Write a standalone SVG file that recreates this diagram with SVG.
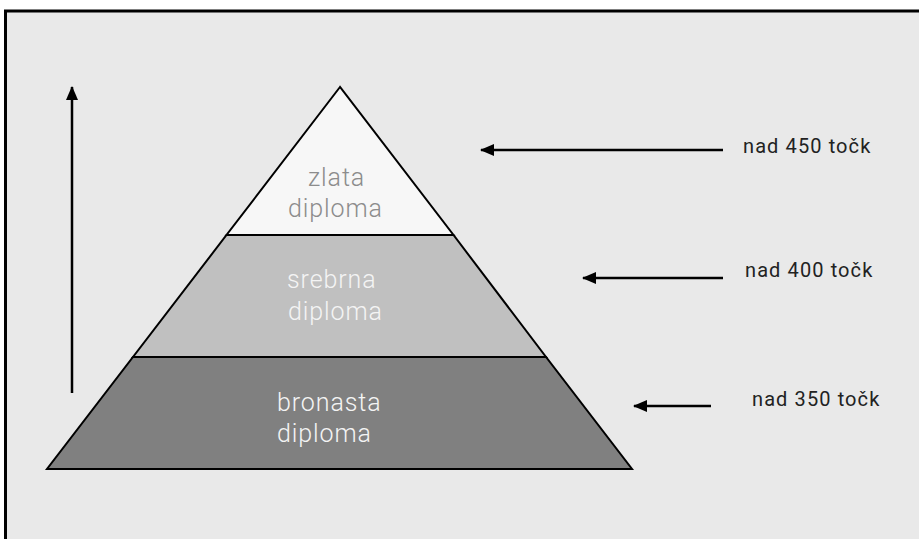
<svg xmlns="http://www.w3.org/2000/svg" width="919" height="539" viewBox="0 0 919 539">
<defs>
<marker id="ah" markerWidth="14" markerHeight="12" refX="13" refY="6" orient="auto" markerUnits="userSpaceOnUse">
<path d="M0,0 L14,6 L0,12 Z" fill="#000"/>
</marker>
<style>
.lvl{stroke:#000;stroke-width:2;stroke-linejoin:miter}
.lt{font-family:Roboto,"Liberation Sans",sans-serif;font-weight:300;font-size:25px;letter-spacing:0.9px}
.rt{font-family:Roboto,"Liberation Sans",sans-serif;font-weight:400;font-size:20px;letter-spacing:1.1px;fill:#222}
.con{stroke:#000;stroke-width:2.5;fill:none;marker-end:url(#ah)}
</style>
</defs>
<rect width="919" height="539" fill="#fff"/>
<rect x="5.5" y="11" width="1000" height="1000" fill="#e9e9e9" stroke="#000" stroke-width="3"/>
<g id="zlata">
<polygon class="lvl" points="340,87 226.5,235 453.5,235" fill="#f7f7f7"/>
<text class="lt" fill="#8c8c8c" x="308" y="186">zlata</text>
<text class="lt" fill="#8c8c8c" x="288" y="217">diploma</text>
</g>
<g id="srebrna">
<polygon class="lvl" points="226.5,235 453.5,235 546,357 133,357" fill="#c0c0c0"/>
<text class="lt" fill="#f4f4f4" x="287" y="288">srebrna</text>
<text class="lt" fill="#f4f4f4" x="288" y="320">diploma</text>
</g>
<g id="bronasta">
<polygon class="lvl" points="133,357 546,357 632,469 47,469" fill="#808080"/>
<text class="lt" fill="#f4f4f4" x="277" y="411">bronasta</text>
<text class="lt" fill="#f4f4f4" x="277" y="442">diploma</text>
</g>
<g id="t450"><text class="rt" x="743" y="153">nad 450 točk</text></g>
<g id="t400"><text class="rt" x="745" y="277">nad 400 točk</text></g>
<g id="t350"><text class="rt" x="752" y="406">nad 350 točk</text></g>
<g id="connectors">
<line class="con" x1="723" y1="150" x2="481" y2="150"/>
<line class="con" x1="723" y1="278" x2="583" y2="278"/>
<line class="con" x1="711" y1="406" x2="634" y2="406"/>
<line class="con" x1="72" y1="393" x2="72" y2="87"/>
</g>
</svg>
